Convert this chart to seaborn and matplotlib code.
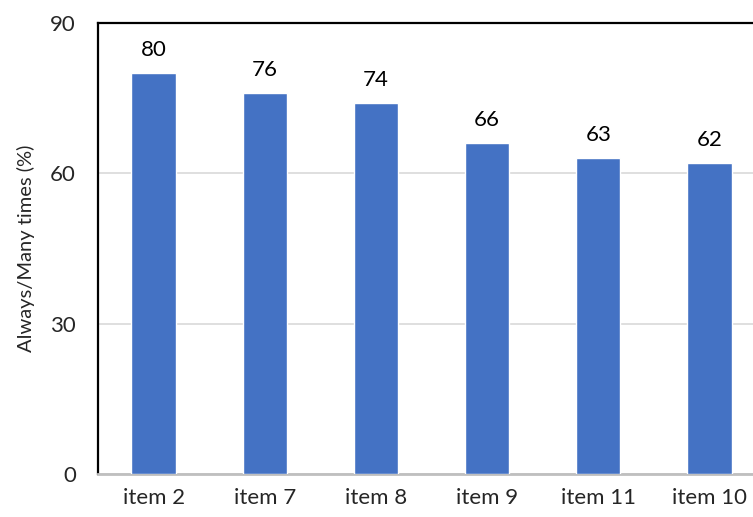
import matplotlib
matplotlib.use("Agg")
import matplotlib.pyplot as plt
import seaborn as sns
import pandas as pd

items = ["item 2", "item 7", "item 8", "item 9", "item 11", "item 10"]
values = [80, 76, 74, 66, 63, 62]
y_ticks = [0, 30, 60, 90]

sns.set_theme(style="white")
plt.rcParams["font.family"] = ["Lato", "DejaVu Sans"]

df = pd.DataFrame({"item": items, "value": values})

fig = plt.figure(figsize=(7.53, 5.17), dpi=100)
W, H = 753, 517
left, right, top, bottom = 98, 765, 23, 474
ax = fig.add_axes([left / W, 1 - bottom / H, (right - left) / W, (bottom - top) / H])

sns.barplot(data=df, x="item", y="value", color="#4472C4", width=0.4,
            saturation=1, ax=ax, zorder=3)

for c in ax.containers:
    ax.bar_label(c, labels=[str(v) for v in values], padding=9.5, fontsize=16,
                 color="#000000")

ax.set_ylim(0, 90)
ax.set_xlim(-0.5, len(items) - 0.5)
ax.set_yticks(y_ticks)
ax.set_yticklabels([str(t) for t in y_ticks])
ax.yaxis.grid(True, color="#d9d9d9", linewidth=1.2, zorder=0)
ax.set_axisbelow(True)

ax.set_xlabel("")
ax.set_ylabel("Always/Many times (%)", fontsize=14.5, labelpad=11)
ax.tick_params(axis="y", length=0, pad=16, labelsize=16)
ax.tick_params(axis="x", length=0, pad=10, labelsize=16)

for side in ["left", "top"]:
    ax.spines[side].set_color("black")
    ax.spines[side].set_linewidth(1.6)
ax.spines["bottom"].set_color("#bfbfbf")
ax.spines["bottom"].set_linewidth(2)
ax.spines["right"].set_visible(False)

fig.savefig("out.png", dpi=100)
